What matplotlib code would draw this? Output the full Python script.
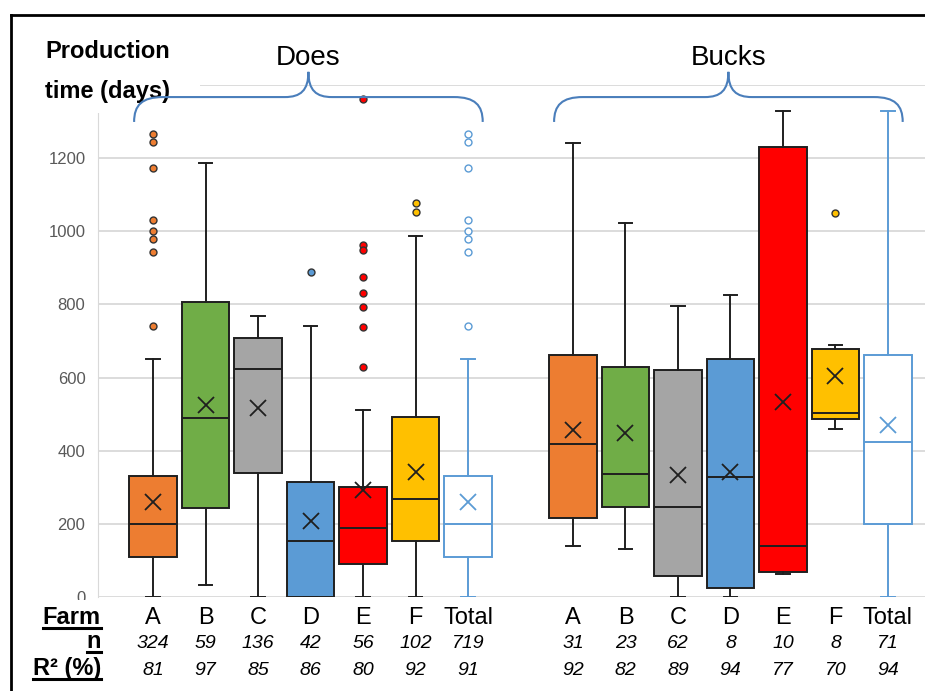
import matplotlib
matplotlib.use("Agg")
import matplotlib.pyplot as plt
from matplotlib.path import Path
from matplotlib.patches import PathPatch, Rectangle
from matplotlib.lines import Line2D
from matplotlib.transforms import blended_transform_factory

plt.rcParams['font.family'] = ['Liberation Sans', 'DejaVu Sans']

# ---- data ----
farms = ["A", "B", "C", "D", "E", "F", "Total"]
farm_colors = ["#ED7D31", "#70AD47", "#A5A5A5", "#5B9BD5", "#FF0000", "#FFC000", "white"]

does_q1 = [109, 242, 339, 0, 90, 152, 109]
does_med = [199, 490, 624, 153, 189, 268, 199]
does_q3 = [330, 806, 707, 315, 302, 492, 330]
does_lo = [0, 33, 0, 0, 0, 0, 0]
does_hi = [652, 1188, 769, 740, 510, 988, 652]
does_mean = [259, 525, 518, 209, 293, 343, 259]
does_fliers = [[1265, 1243, 1172, 1030, 1001, 978, 944, 742], [], [], [889],
               [1362, 962, 948, 874, 832, 792, 738, 630], [1076, 1054],
               [1265, 1243, 1172, 1030, 1001, 978, 944, 742]]
does_n = [324, 59, 136, 42, 56, 102, 719]
does_r2 = [81, 97, 85, 86, 80, 92, 91]

bucks_q1 = [216, 247, 58, 25, 69, 488, 199]
bucks_med = [418, 336, 246, 329, 140, 503, 425]
bucks_q3 = [661, 629, 622, 652, 1230, 678, 661]
bucks_lo = [140, 131, 0, 0, 64, 460, 0]
bucks_hi = [1241, 1023, 796, 827, 1328, 689, 1328]
bucks_mean = [458, 448, 333, 342, 533, 603, 469]
bucks_fliers = [[], [], [], [], [], [1049], []]
bucks_n = [31, 23, 62, 8, 10, 8, 71]
bucks_r2 = [92, 82, 89, 94, 77, 70, 94]

yticks = [0, 200, 400, 600, 800, 1000, 1200, 1400]

# ---- layout helpers (pixels of the 925x691 picture) ----
W, H = 925, 691
DARK = "#1F1F1F"
TOTAL_BLUE = "#5B9BD5"
BRACE_BLUE = "#4A7EBB"


def fx(px):
    return px / W


def fy(py):
    return 1 - py / H


def make_stats(q1, med, q3, lo, hi, mean, fliers):
    return [dict(q1=a, med=b, q3=c, whislo=d, whishi=e, mean=f, fliers=g)
            for a, b, c, d, e, f, g in zip(q1, med, q3, lo, hi, mean, fliers)]


def draw_group(ax, stats, positions):
    art = ax.bxp(stats, positions=positions, widths=0.9, capwidths=0.26,
                 patch_artist=True, showmeans=True, showfliers=True,
                 boxprops=dict(edgecolor=DARK, linewidth=1.4),
                 medianprops=dict(color=DARK, linewidth=1.4),
                 whiskerprops=dict(color=DARK, linewidth=1.4),
                 capprops=dict(color=DARK, linewidth=1.4),
                 meanprops=dict(marker="x", markeredgecolor=DARK, markersize=11, markeredgewidth=1.3),
                 flierprops=dict(marker="o", markersize=5, markeredgecolor="#333333", markeredgewidth=1))
    for i, c in enumerate(farm_colors):
        art["boxes"][i].set_facecolor(c)
        art["fliers"][i].set_markerfacecolor(c)
        if farms[i] == "Total":
            art["boxes"][i].set_edgecolor(TOTAL_BLUE)
            art["medians"][i].set_color(TOTAL_BLUE)
            art["means"][i].set_markeredgecolor(TOTAL_BLUE)
            art["fliers"][i].set_markeredgecolor(TOTAL_BLUE)
            for k in (2 * i, 2 * i + 1):
                art["whiskers"][k].set_color(TOTAL_BLUE)
                art["caps"][k].set_color(TOTAL_BLUE)
    return art


def brace(ax, x0, x1):
    xc = (x0 + x1) / 2
    yb, ym, yt = 1299, 1367, 1436
    r, t = 0.55, 0.45
    verts = [(x0, yb), (x0, 1345), (x0 + 0.15, ym), (x0 + r, ym),
             (xc - t, ym),
             (xc - 0.15, ym), (xc, 1385), (xc, yt),
             (xc, 1385), (xc + 0.15, ym), (xc + t, ym),
             (x1 - r, ym),
             (x1 - 0.15, ym), (x1, 1345), (x1, yb)]
    codes = [Path.MOVETO] + [Path.CURVE4] * 3 + [Path.LINETO] + [Path.CURVE4] * 6 \
        + [Path.LINETO] + [Path.CURVE4] * 3
    ax.add_artist(PathPatch(Path(verts, codes), facecolor="none", edgecolor=BRACE_BLUE,
                            linewidth=1.5, clip_on=False, zorder=8))
    return xc


fig = plt.figure(figsize=(W / 100, H / 100), dpi=100)
ax = fig.add_axes([fx(98), fy(597), fx(925) - fx(98), fy(85) - fy(597)])

does_pos = list(range(7))
bucks_pos = [8 + i for i in range(7)]

draw_group(ax, make_stats(does_q1, does_med, does_q3, does_lo, does_hi, does_mean, does_fliers), does_pos)
draw_group(ax, make_stats(bucks_q1, bucks_med, bucks_q3, bucks_lo, bucks_hi, bucks_mean, bucks_fliers), bucks_pos)

ax.set_xlim(-1.048, 14.705)
ax.set_ylim(0, 1400)
ax.set_xticks([])
ax.set_yticks(yticks)
ax.set_yticklabels([str(v) if v < 1400 else "" for v in yticks], color="#595959", fontsize=12)
ax.tick_params(axis="y", length=0, pad=9)
ax.set_axisbelow(True)
ax.grid(axis="y", color="#D9D9D9", linewidth=1.3)
for s in ("top", "right", "bottom"):
    ax.spines[s].set_visible(False)
ax.spines["left"].set_color("#D9D9D9")

# white areas that hide parts of the axis, as in the original
ax.add_artist(Rectangle((fx(12), fy(113)), fx(200) - fx(12), fy(17) - fy(113),
                        transform=fig.transFigure, facecolor="white", edgecolor="none",
                        clip_on=False, zorder=5))
ax.add_artist(Rectangle((fx(12), 0), 1 - fx(12), fy(600),
                        transform=fig.transFigure, facecolor="white", edgecolor="none",
                        clip_on=False, zorder=5))

# y label
ax.text(fx(45), fy(58), "Production", transform=fig.transFigure, fontsize=17,
        fontweight="bold", va="baseline", ha="left", zorder=6)
ax.text(fx(45), fy(98), "time (days)", transform=fig.transFigure, fontsize=17,
        fontweight="bold", va="baseline", ha="left", zorder=6)

# braces with group names
trans = blended_transform_factory(ax.transData, fig.transFigure)
for pos, name in ((does_pos, "Does"), (bucks_pos, "Bucks")):
    xc = brace(ax, pos[0] - 0.36, pos[-1] + 0.28)
    ax.text(xc, fy(65), name, transform=trans, fontsize=20, ha="center",
            va="baseline", zorder=6)

# table under the plot
row_y = [624, 648, 675]
heads = ["Farm", "n", "R² (%)"]
head_texts = []
for y, h in zip(row_y, heads):
    head_texts.append(ax.text(fx(101), fy(y), h, transform=fig.transFigure, fontsize=17,
                              fontweight="bold", ha="right", va="baseline", zorder=6))

for pos, ns, r2s in ((does_pos, does_n, does_r2), (bucks_pos, bucks_n, bucks_r2)):
    for x, f, n, r in zip(pos, farms, ns, r2s):
        ax.text(x, fy(row_y[0]), f, transform=trans, fontsize=17, ha="center",
                va="baseline", zorder=6)
        ax.text(x, fy(row_y[1]), str(n), transform=trans, fontsize=14, style="italic",
                ha="center", va="baseline", zorder=6)
        ax.text(x, fy(row_y[2]), str(r), transform=trans, fontsize=14, style="italic",
                ha="center", va="baseline", zorder=6)

fig.canvas.draw()
renderer = fig.canvas.get_renderer()
for t, y in zip(head_texts, row_y):
    bb = t.get_window_extent(renderer)
    ax.add_artist(Line2D([bb.x0 / W, bb.x1 / W], [fy(y + 3.5)] * 2, transform=fig.transFigure,
                         color="black", linewidth=2.2, clip_on=False, zorder=6))

# outer frame (left and top edges visible)
ax.add_artist(Line2D([fx(11), fx(11)], [fy(15), 0], transform=fig.transFigure,
                     color="black", linewidth=2, clip_on=False, zorder=9))
ax.add_artist(Line2D([fx(11), 1], [fy(15), fy(15)], transform=fig.transFigure,
                     color="black", linewidth=2, clip_on=False, zorder=9))

fig.savefig("out.png", dpi=100, facecolor="white")
